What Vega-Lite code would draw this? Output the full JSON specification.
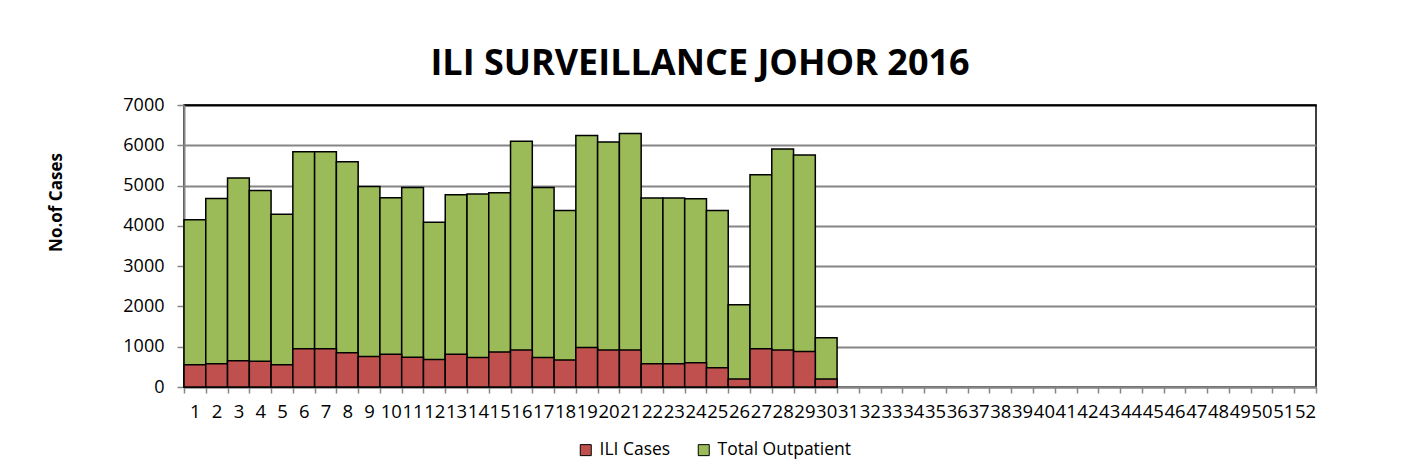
{
  "$schema": "https://vega.github.io/schema/vega-lite/v6.json",
  "autosize": {"type": "none"},
  "padding": {"left": 184, "top": 105, "right": 106, "bottom": 87},
  "width": 1132,
  "height": 282,
  "background": "white",
  "title": {
    "text": "ILI SURVEILLANCE JOHOR 2016",
    "font": "Open Sans",
    "fontSize": 36,
    "fontWeight": "bold",
    "color": "black",
    "anchor": "middle",
    "frame": "group",
    "baseline": "alphabetic",
    "offset": 30,
    "dx": -50,
    "dy": 45
  },
  "data": {
    "values": [
      {"week": 1, "series": "Total Outpatient", "cases": 4150},
      {"week": 2, "series": "Total Outpatient", "cases": 4680},
      {"week": 3, "series": "Total Outpatient", "cases": 5190},
      {"week": 4, "series": "Total Outpatient", "cases": 4880},
      {"week": 5, "series": "Total Outpatient", "cases": 4290},
      {"week": 6, "series": "Total Outpatient", "cases": 5840},
      {"week": 7, "series": "Total Outpatient", "cases": 5840},
      {"week": 8, "series": "Total Outpatient", "cases": 5590},
      {"week": 9, "series": "Total Outpatient", "cases": 4980},
      {"week": 10, "series": "Total Outpatient", "cases": 4700},
      {"week": 11, "series": "Total Outpatient", "cases": 4950},
      {"week": 12, "series": "Total Outpatient", "cases": 4090},
      {"week": 13, "series": "Total Outpatient", "cases": 4770},
      {"week": 14, "series": "Total Outpatient", "cases": 4790},
      {"week": 15, "series": "Total Outpatient", "cases": 4820},
      {"week": 16, "series": "Total Outpatient", "cases": 6100},
      {"week": 17, "series": "Total Outpatient", "cases": 4950},
      {"week": 18, "series": "Total Outpatient", "cases": 4380},
      {"week": 19, "series": "Total Outpatient", "cases": 6240},
      {"week": 20, "series": "Total Outpatient", "cases": 6080},
      {"week": 21, "series": "Total Outpatient", "cases": 6290},
      {"week": 22, "series": "Total Outpatient", "cases": 4690},
      {"week": 23, "series": "Total Outpatient", "cases": 4690},
      {"week": 24, "series": "Total Outpatient", "cases": 4670},
      {"week": 25, "series": "Total Outpatient", "cases": 4380},
      {"week": 26, "series": "Total Outpatient", "cases": 2040},
      {"week": 27, "series": "Total Outpatient", "cases": 5270},
      {"week": 28, "series": "Total Outpatient", "cases": 5910},
      {"week": 29, "series": "Total Outpatient", "cases": 5760},
      {"week": 30, "series": "Total Outpatient", "cases": 1220},
      {"week": 1, "series": "ILI Cases", "cases": 550},
      {"week": 2, "series": "ILI Cases", "cases": 580},
      {"week": 3, "series": "ILI Cases", "cases": 650},
      {"week": 4, "series": "ILI Cases", "cases": 640},
      {"week": 5, "series": "ILI Cases", "cases": 550},
      {"week": 6, "series": "ILI Cases", "cases": 950},
      {"week": 7, "series": "ILI Cases", "cases": 950},
      {"week": 8, "series": "ILI Cases", "cases": 850},
      {"week": 9, "series": "ILI Cases", "cases": 760},
      {"week": 10, "series": "ILI Cases", "cases": 810},
      {"week": 11, "series": "ILI Cases", "cases": 740},
      {"week": 12, "series": "ILI Cases", "cases": 680},
      {"week": 13, "series": "ILI Cases", "cases": 810},
      {"week": 14, "series": "ILI Cases", "cases": 730},
      {"week": 15, "series": "ILI Cases", "cases": 870},
      {"week": 16, "series": "ILI Cases", "cases": 920},
      {"week": 17, "series": "ILI Cases", "cases": 730},
      {"week": 18, "series": "ILI Cases", "cases": 670},
      {"week": 19, "series": "ILI Cases", "cases": 980},
      {"week": 20, "series": "ILI Cases", "cases": 920},
      {"week": 21, "series": "ILI Cases", "cases": 920},
      {"week": 22, "series": "ILI Cases", "cases": 580},
      {"week": 23, "series": "ILI Cases", "cases": 580},
      {"week": 24, "series": "ILI Cases", "cases": 600},
      {"week": 25, "series": "ILI Cases", "cases": 480},
      {"week": 26, "series": "ILI Cases", "cases": 200},
      {"week": 27, "series": "ILI Cases", "cases": 950},
      {"week": 28, "series": "ILI Cases", "cases": 920},
      {"week": 29, "series": "ILI Cases", "cases": 880},
      {"week": 30, "series": "ILI Cases", "cases": 200}
    ]
  },
  "mark": {"type": "bar", "stroke": "black", "strokeWidth": 1.5},
  "encoding": {
    "x": {
      "field": "week",
      "type": "ordinal",
      "scale": {
        "domain": [1,2,3,4,5,6,7,8,9,10,11,12,13,14,15,16,17,18,19,20,21,22,23,24,25,26,27,28,29,30,31,32,33,34,35,36,37,38,39,40,41,42,43,44,45,46,47,48,49,50,51,52],
        "paddingInner": 0,
        "paddingOuter": 0
      },
      "axis": {
        "title": null,
        "labelAngle": 0,
        "labelOverlap": false,
        "labelFont": "Open Sans",
        "labelFontSize": 18.5,
        "labelColor": "black",
        "labelPadding": 9,
        "tickBand": "extent",
        "tickSize": 6,
        "tickColor": "#868686",
        "tickWidth": 1.5,
        "domainColor": "#868686",
        "domainWidth": 2,
        "grid": false
      }
    },
    "y": {
      "field": "cases",
      "type": "quantitative",
      "stack": null,
      "scale": {"domain": [0, 7000], "nice": false},
      "axis": {
        "title": "No.of Cases",
        "titleFont": "Open Sans",
        "titleFontSize": 17,
        "titleFontWeight": "bold",
        "titleColor": "black",
        "titleX": -128,
        "titleY": 97,
        "titleAngle": -90,
        "titleAlign": "center",
        "titleBaseline": "middle",
        "values": [0,1000,2000,3000,4000,5000,6000,7000],
        "format": "d",
        "labelFont": "Open Sans",
        "labelFontSize": 18,
        "labelColor": "black",
        "labelPadding": 13,
        "tickSize": 7,
        "tickColor": "#868686",
        "tickWidth": 1.5,
        "domainColor": "#868686",
        "domainWidth": 2,
        "grid": true,
        "gridColor": {"condition": {"test": "datum.value === 7000", "value": "black"}, "value": "#868686"},
        "gridWidth": 2
      }
    },
    "color": {
      "field": "series",
      "type": "nominal",
      "scale": {"domain": ["ILI Cases", "Total Outpatient"], "range": ["#C0504D", "#9BBB59"]},
      "legend": {
        "title": null,
        "orient": "none",
        "direction": "horizontal",
        "legendX": 393,
        "legendY": 336,
        "padding": 0,
        "symbolType": "square",
        "symbolSize": 121,
        "symbolStrokeColor": "black",
        "symbolStrokeWidth": 1,
        "symbolOpacity": 1,
        "labelFont": "Open Sans",
        "labelFontSize": 17.5,
        "labelColor": "black",
        "labelOffset": 5,
        "columnPadding": 24
      }
    }
  },
  "config": {
    "view": {"stroke": "black", "strokeWidth": 1.5}
  }
}
